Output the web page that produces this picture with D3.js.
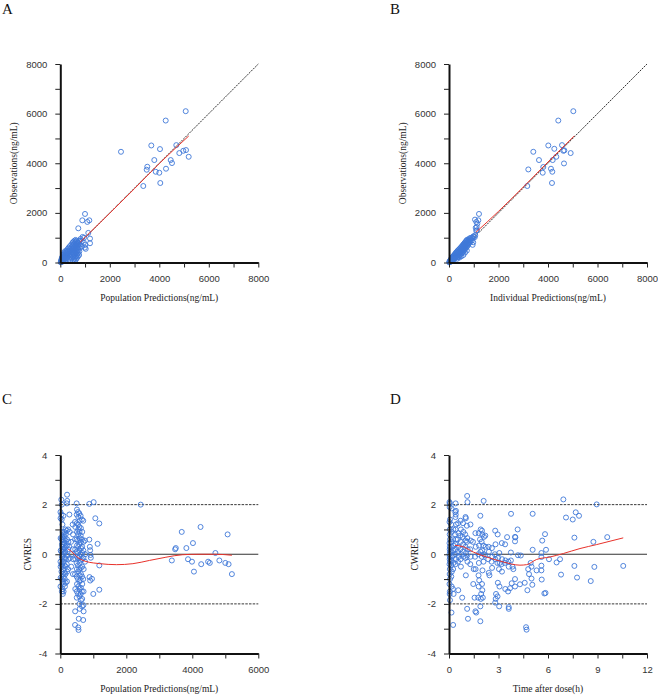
<!DOCTYPE html>
<html>
<head>
<meta charset="utf-8">
<script src="https://cdn.jsdelivr.net/npm/d3@7/dist/d3.min.js"></script>
<style>
body { margin: 0; background: #fff; }
.tick text { font-family: "Liberation Sans", Arial, sans-serif; font-size: 9.5px; fill: #333; }
.title { font-family: "Liberation Serif", "Times New Roman", serif; font-size: 9.5px; fill: #222; }
.letter { font-family: "Liberation Serif", "Times New Roman", serif; font-size: 15px; fill: #111; }
</style>
</head>
<body>
<svg id="chart" width="658" height="699"></svg>
<script>
// A: population predictions vs observations (ng/mL)
let predObs = [
  [15,10],[25,60],[35,25],[45,120],[55,70],[60,180],[70,30],[80,140],[90,240],[95,90],
  [105,200],[115,310],[120,60],[130,160],[140,260],[150,380],[155,110],[165,220],[175,330],[185,450],
  [190,60],[200,170],[210,280],[215,400],[225,120],[235,240],[245,350],[255,480],[265,180],[275,300],
  [285,420],[295,540],[305,230],[315,350],[325,460],[340,600],[350,150],[360,300],[370,420],[380,540],
  [390,660],[400,90],[410,230],[420,360],[430,480],[440,600],[450,720],[455,160],[465,300],[470,420],
  [480,540],[490,660],[495,800],[505,80],[510,220],[515,350],[520,470],[525,590],[530,710],[535,840],
  [545,130],[550,270],[555,400],[560,520],[565,640],[570,760],[575,880],[585,60],[590,190],[595,320],
  [600,450],[605,570],[610,690],[615,810],[620,910],[630,120],[635,250],[640,380],[645,500],[650,620],
  [655,740],[660,860],[670,180],[675,310],[680,440],[685,560],[690,680],[700,800],[710,240],[715,370],
  [720,500],[730,620],[740,740],[750,860],[760,300],[770,450],[780,600],[790,720],[800,880],[820,950],
  [727,1379],[889,1700],[998,1957],[1091,1636],[1172,1700],[1131,1193],[1200,965],[1200,776],[864,856],[950,800],
  [1010,711],[1026,551],[900,1030],[960,1000],[990,600],[870,640],
  [2452,4462],[3353,3083],[3491,3739],[3515,3859],[3677,4716],[3798,4129],[3855,3658],[4000,3618],[4028,4571],[4040,3204],
  [4259,5721],[4271,3779],[4461,4129],[4513,4008],[4687,4731],[4808,4410],[4970,4502],[5067,6098],[5079,4531],[5188,4261]
]
let predObsTrend = [[800,820],[2000,1990],[3000,2980],[4000,3990],[5190,5100]]

// B: individual predictions vs observations (ng/mL)
let ipredObs = [
  [10,5],[20,40],[30,15],[40,70],[50,30],[60,100],[70,50],[80,130],[90,75],[100,160],
  [110,100],[120,190],[125,60],[135,130],[145,220],[150,90],[160,170],[170,250],[175,110],[185,200],
  [195,280],[205,140],[215,230],[225,320],[235,170],[245,270],[255,360],[265,200],[275,300],[285,400],
  [295,230],[305,330],[315,430],[325,260],[335,370],[345,470],[355,210],[365,300],[375,410],[385,510],
  [395,250],[405,350],[415,450],[425,550],[435,290],[445,390],[455,490],[465,590],[475,330],[480,430],
  [490,530],[500,630],[510,370],[520,470],[525,570],[535,670],[545,410],[550,510],[560,610],[565,710],
  [575,450],[585,550],[590,650],[600,750],[610,490],[615,590],[625,690],[630,790],[640,530],[650,630],
  [655,730],[665,830],[675,580],[680,680],[690,780],[700,880],[710,620],[715,720],[725,820],[735,920],
  [745,670],[755,770],[765,870],[780,720],[790,820],[800,940],[815,780],[830,880],[845,980],[860,840],
  [880,930],[900,1000],[920,880],[950,980],[980,1040],[1000,1060],[1040,1020],[1060,1100],[330,150],[420,200],
  [500,250],[580,300],[650,400],[720,480],
  [1212,1957],[1050,1728],[1104,1636],[1185,1700],[1145,1568],[1078,1395],[1118,1435],[978,816],[955,711],[1100,1280],[1130,1300],
  [3163,3083],[3205,3751],[3406,4462],[3636,4129],[3786,3618],[3810,3848],[4012,4716],[4120,3779],[4161,3204],[4174,3658],
  [4189,4129],[4255,4583],[4336,4261],[4416,5721],[4566,4731],[4620,4502],[4646,3992],[4660,4518],[4916,4410],[5023,6098]
]
let ipredObsTrend = [[1090,1220],[2000,2060],[3000,3040],[4000,4050],[5060,5100]]

// C: population predictions vs CWRES
let predCwres = [
  [5,1.7],[8,1.45],[10,0.65],[12,0.15],[6,-0.3],[9,-0.5],[11,-0.95],[7,-1.3],
  [30,2.2],[45,2.0],[35,1.6],[42,1.4],[38,0.6],[50,0.4],[33,0.1],[47,-0.1],[40,-0.4],[36,-0.7],[44,-1.0],[48,-1.5],
  [65,1.2],[72,0.9],[68,0.7],[75,0.5],[62,0.3],[78,0.1],[70,-0.2],[66,-0.5],[74,-0.8],[80,-1.1],[69,-1.4],[77,-1.6],
  [95,1.55],[102,0.8],[98,0.6],[105,0.4],[92,0.2],[108,0.0],[100,-0.3],[96,-0.6],[104,-0.9],[110,-1.2],[99,-1.5],
  [125,0.9],[132,0.7],[128,0.45],[135,0.25],[122,0.05],[138,-0.15],[130,-0.45],[126,-0.75],[134,-1.0],[140,-1.3],
  [155,1.0],[162,0.8],[158,0.55],[165,0.3],[152,0.1],[168,-0.2],[160,-0.5],[156,-0.8],[164,-1.15],
  [205,2.4],[210,2.15],[198,2.05],[195,0.95],[205,0.6],[200,0.35],[212,-0.05],[196,-0.4],[208,-0.7],[202,-1.1],
  [235,1.0],[245,0.5],[240,0.2],[250,-0.2],[238,-0.6],
  [275,1.6],[285,0.9],[270,0.3],[290,-0.15],
  [325,0.5],[335,0.0],[330,-0.5],
  [375,1.2],[385,0.8],[378,0.2],[390,-0.2],[382,-0.8],
  [445,1.3],[455,1.1],[448,0.6],[452,0.2],[458,-0.2],[446,-0.8],[454,-1.4],[450,-2.3],[447,-2.85],
  [495,2.05],[505,1.8],[498,1.6],[502,1.25],[508,0.9],[496,0.6],[504,0.35],[500,0.1],[506,-0.1],[494,-0.35],
  [503,-0.6],[497,-0.9],[507,-1.2],[501,-1.5],[499,-1.75],[545,-2.95],
  [535,1.7],[545,1.5],[538,1.2],[542,1.0],[548,0.8],[536,0.55],[544,0.3],[540,0.05],[546,-0.15],[534,-0.45],
  [543,-0.7],[537,-1.0],[547,-1.3],[541,-1.6],[560,-2.6],[552,-3.05],
  [575,1.65],[585,1.35],[578,1.1],[582,0.9],[588,0.65],[576,0.4],[584,0.15],[580,-0.1],[586,-0.35],[574,-0.6],
  [583,-0.85],[577,-1.1],[587,-1.4],[581,-1.7],[579,-2.0],[589,-2.2],
  [615,1.55],[625,1.05],[618,0.75],[622,0.5],[628,0.25],[616,0.0],[624,-0.25],[620,-0.55],[626,-0.8],[614,-1.05],
  [623,-1.35],[617,-1.6],[627,-1.85],
  [655,1.4],[665,0.9],[658,0.6],[662,0.3],[668,0.05],[656,-0.2],[664,-0.5],[660,-0.9],[666,-1.2],[654,-1.5],
  [663,-1.8],[657,-2.1],
  [695,1.35],[705,0.5],[698,0.15],[702,-0.15],[708,-0.6],[696,-1.0],[704,-1.5],[700,-2.05],[706,-2.3],[694,-2.65],
  [745,0.55],[755,0.0],[750,-0.3],
  [879,2.03],[1011,2.1],[879,0.59],[895,0.3],[905,0.16],[1130,0.42],[1061,1.45],[1182,1.24],[1182,-0.45],[1182,-1.43],
  [1000,-1.6],[885,-0.92],[960,-0.99],[905,-1.06],[925,-0.14],[915,-0.03],[2436,2.0],
  [3380,-0.25],[3480,0.2],[3500,0.25],[3680,0.9],[3820,0.25],[3870,-0.2],[3990,-0.3],[4020,0.45],[4050,-0.7],[4250,1.1],
  [4270,-0.4],[4480,-0.3],[4530,-0.35],[4700,0.05],[4820,-0.25],[5000,-0.35],[5070,0.8],[5100,-0.4],[5200,-0.8]
]
let predCwresTrend = [[243,0.2],[350,0.1],[500,-0.1],[750,-0.28],[1000,-0.35],[1200,-0.38],[1700,-0.42],[2200,-0.38],
  [2700,-0.25],[3200,-0.12],[3700,-0.02],[4200,0.0],[4700,0.0],[5200,-0.04]]

// D: time after dose (h) vs CWRES
let timeCwres = [
  [0.03,2.1],[0.05,2.05],[0.04,1.9],[0.06,1.4],[0.03,1.3],[0.05,1.0],[0.04,0.8],[0.06,0.6],[0.03,0.45],[0.05,0.3],
  [0.04,0.2],[0.06,0.1],[0.03,0.0],[0.05,-0.1],[0.04,-0.2],[0.06,-0.3],[0.03,-0.4],[0.05,-0.6],[0.04,-0.8],[0.06,-1.0],
  [0.03,-1.2],[0.05,-1.5],[0.04,-1.6],[0.06,-1.85],
  [0.15,1.85],[0.13,1.2],[0.17,0.9],[0.14,0.5],[0.16,0.3],[0.12,0.1],[0.18,-0.1],[0.15,-0.25],[0.13,-0.45],[0.17,-0.7],
  [0.14,-0.9],[0.16,-1.3],[0.15,-2.35],
  [0.26,1.0],[0.24,0.6],[0.28,0.35],[0.25,0.15],[0.23,-0.05],[0.27,-0.35],[0.25,-0.6],[0.24,-1.4],[0.25,-2.85],[0.28,-1.6],
  [0.4,2.05],[0.42,1.75],[0.38,1.7],[0.41,1.6],[0.39,1.5],[0.43,1.2],[0.4,1.0],[0.37,0.8],[0.42,0.6],[0.39,0.4],
  [0.41,0.2],[0.38,0.0],[0.42,-0.2],[0.4,-0.4],
  [0.55,1.25],[0.57,0.85],[0.53,0.6],[0.56,0.3],[0.54,0.1],[0.58,-0.1],[0.55,-0.3],[0.56,-1.45],
  [0.7,1.35],[0.72,1.0],[0.68,0.75],[0.71,0.5],[0.69,0.2],[0.73,0.0],[0.7,-0.2],[0.72,-0.5],
  [0.85,1.25],[0.87,0.9],[0.83,0.7],[0.86,0.4],[0.84,0.1],[0.88,-0.1],[0.8,-1.75],
  [1.0,1.5],[1.02,1.45],[0.98,0.8],[1.01,0.55],[0.99,0.3],[1.03,0.05],[1.0,-0.15],[1.02,-0.85],
  [1.1,2.35],[1.12,2.1],[1.08,1.15],[1.11,0.65],[1.09,0.5],[1.13,0.2],[1.1,-0.05],[1.12,-0.3],[1.1,-2.2],[1.15,-2.6],
  [1.3,1.2],[1.32,0.55],[1.28,0.2],[1.31,-0.1],[1.29,-0.4],
  [1.45,0.5],[1.5,-0.6],[1.47,-1.2],
  [1.6,0.85],[1.62,0.3],[1.58,-0.1],[1.61,-0.6],[1.55,-1.75],[1.6,-2.3],[1.65,-2.35],
  [1.8,0.85],[1.82,0.35],[1.78,0.0],[1.81,-0.35],[1.79,-0.85],[1.83,-1.05],[1.8,-1.3],[1.77,-1.75],[1.9,-2.1],
  [1.9,1.55],[1.92,1.0],[1.88,0.6],[1.91,0.1],[1.95,-1.6],[1.93,-1.8],[1.9,-2.7],
  [2.0,0.95],[2.02,0.8],[1.98,0.5],[2.01,0.15],[1.99,-0.1],[2.03,-0.65],[2.0,-1.2],[2.02,-1.45],[2.05,-1.75],
  [2.1,2.15],[2.12,0.7],[2.08,0.35],[2.11,0.0],[2.09,-0.3],
  [2.2,0.75],[2.22,0.3],[2.18,-0.05],
  [2.4,0.3],[2.42,0.1],[2.38,-0.2],[2.41,-0.75],[2.45,-0.85],
  [2.6,0.25],[2.62,-0.1],[2.58,-0.3],[2.61,-0.55],
  [2.8,0.95],[2.82,0.4],[2.78,0.0],[2.81,-0.2],[2.85,-1.6],[2.83,-1.8],[2.8,-1.95],
  [2.95,0.8],[2.97,-0.15],[2.93,-0.35],[2.96,-1.15],[2.94,-1.7],
  [3.05,0.05],[3.07,-0.35],[3.03,-0.6],[3.06,-1.3],[3.04,-2.1],
  [3.2,0.45],[3.22,-0.2],[3.18,-0.4],[3.21,-0.7],
  [3.4,0.4],[3.42,-0.25],[3.38,-0.35],[3.41,-1.4],
  [3.6,-0.3],[3.62,-0.5],[3.58,-1.5],[3.62,-2.2],
  [3.76,1.63],[4.16,1.0],[4.0,0.7],[4.02,0.68],[4.0,0.52],[3.52,0.69],[3.75,0.07],[3.75,-0.25],[3.85,-0.5],[3.9,-0.6],
  [3.7,-1.37],[3.8,-1.17],[4.0,-1.3],[4.0,-1.0],[3.62,-2.13],[4.18,-0.04],[4.35,-0.05],[4.3,-1.21],[4.59,-1.15],[4.67,-2.94],
  [4.7,-3.04],[4.8,-0.6],[4.85,-0.8],[4.75,-1.45],[4.95,-0.35],[5.0,-0.5],[5.07,1.63],[5.07,0.18],[5.0,-0.98],[5.05,-1.23],
  [5.31,-0.65],[5.6,0.05],[5.6,-0.11],[5.6,-0.46],[5.6,-0.65],[5.62,-1.02],[5.65,0.55],[5.78,-1.58],[5.85,-1.56],[5.82,0.81],
  [5.88,0.18],[6.06,-0.2],[6.52,-0.33],[6.73,-0.2],[6.79,-0.82],[6.93,2.21],[7.09,1.48],[7.5,1.4],[7.6,0.67],[7.6,-0.47],
  [7.68,1.69],[7.76,-0.94],[7.88,1.55],[8.59,-1.08],[8.75,0.5],[8.81,-0.51],[8.95,2.01],[9.59,0.69],[10.56,-0.47]
]
let timeCwresTrend = [[0.36,0.36],[0.87,0.3],[1.47,0.09],[2.28,-0.11],[3.29,-0.31],[4.3,-0.44],[4.7,-0.42],[5.31,-0.21],
  [6.12,-0.11],[6.93,0.03],[7.94,0.23],[8.95,0.39],[10.56,0.66]]

let concTicks = d3.range(0, 8001, 1000)
let predTicks = d3.range(0, 6001, 1000)
let timeTicks = d3.range(0, 12.1, 1.5)
let cwresTicks = d3.range(-4, 4.1, 1)

let panels = [
  { letter: 'A', left: 60.3, top: 64, points: predObs, trend: predObsTrend, kind: 'gof',
    xDomain: [0, 8000], yDomain: [0, 8000], xTicks: concTicks, yTicks: concTicks, xEvery: 2000, yEvery: 2000,
    xTitle: 'Population Predictions(ng/mL)', yTitle: 'Observations(ng/mL)', yTitleOff: 46.5 },
  { letter: 'B', left: 449, top: 64, points: ipredObs, trend: ipredObsTrend, kind: 'gof',
    xDomain: [0, 8000], yDomain: [0, 8000], xTicks: concTicks, yTicks: concTicks, xEvery: 2000, yEvery: 2000,
    xTitle: 'Individual Predictions(ng/mL)', yTitle: 'Observations(ng/mL)', yTitleOff: 46 },
  { letter: 'C', left: 60.3, top: 455, points: predCwres, trend: predCwresTrend, kind: 'res',
    xDomain: [0, 6000], yDomain: [-4, 4], xTicks: predTicks, yTicks: cwresTicks, xEvery: 2000, yEvery: 2,
    xTitle: 'Population Predictions(ng/mL)', yTitle: 'CWRES', yTitleOff: 32.5 },
  { letter: 'D', left: 449, top: 455, points: timeCwres, trend: timeCwresTrend, kind: 'res',
    xDomain: [0, 12], yDomain: [-4, 4], xTicks: timeTicks, yTicks: cwresTicks, xEvery: 3, yEvery: 2,
    xTitle: 'Time after dose(h)', yTitle: 'CWRES', yTitleOff: 34 }
]

let svg = d3.select('#chart')
let W = 198, H = 198.5

function isMajor(v, step) {
  return Math.abs(v / step - Math.round(v / step)) < 1e-6
}

function drawPanel(p) {
  let g = svg.append('g')
  let x = d3.scaleLinear().domain(p.xDomain).range([p.left, p.left + W])
  let y = d3.scaleLinear().domain(p.yDomain).range([p.top + H, p.top])
  let line = d3.line().x(d => x(d[0])).y(d => y(d[1]))

  // reference lines
  if (p.kind === 'gof') {
    g.append('path')
      .attr('d', line([[p.xDomain[0], p.yDomain[0]], [p.xDomain[1], p.yDomain[1]]]))
      .attr('stroke', '#1a1a1a').attr('stroke-width', 0.9).attr('stroke-dasharray', '2,1').attr('fill', 'none')
  } else {
    g.append('path')
      .attr('d', line([[p.xDomain[0], 0], [p.xDomain[1], 0]]))
      .attr('stroke', '#333').attr('stroke-width', 1.1).attr('fill', 'none')
    ;[-2, 2].forEach(v => {
      g.append('path')
        .attr('d', line([[p.xDomain[0], v], [p.xDomain[1], v]]))
        .attr('stroke', '#222').attr('stroke-width', 0.9).attr('stroke-dasharray', '2.5,1.2').attr('fill', 'none')
    })
  }

  // observations
  g.append('g').selectAll('circle')
    .data(p.points)
    .join('circle')
    .attr('cx', d => x(d[0]))
    .attr('cy', d => y(d[1]))
    .attr('r', 2.5)
    .attr('fill', 'none')
    .attr('stroke', '#3f78d8')
    .attr('stroke-width', 0.9)

  // smoother
  g.append('path')
    .attr('d', line.curve(d3.curveMonotoneX)(p.trend))
    .attr('stroke', '#e8322b').attr('stroke-width', 1).attr('fill', 'none')

  // axes
  let xAxis = d3.axisBottom(x).tickValues(p.xTicks).tickSize(5).tickSizeOuter(0).tickPadding(8)
    .tickFormat(d => isMajor(d, p.xEvery) ? d : '')
  let yAxis = d3.axisLeft(y).tickValues(p.yTicks).tickSize(5).tickSizeOuter(0).tickPadding(8)
    .tickFormat(d => isMajor(d, p.yEvery) ? d : '')

  let gx = g.append('g').attr('transform', `translate(0,${y(p.yDomain[0])})`).call(xAxis)
  let gy = g.append('g').attr('transform', `translate(${x(p.xDomain[0])},0)`).call(yAxis)
  ;[gx, gy].forEach(a => {
    a.select('.domain').attr('stroke', '#111').attr('stroke-width', 2)
    a.selectAll('.tick line').attr('stroke', '#222').attr('stroke-width', 1)
  })

  // titles
  g.append('text').attr('class', 'title')
    .attr('x', p.left + W / 2).attr('y', p.top + H + 38)
    .attr('text-anchor', 'middle').text(p.xTitle)
  g.append('text').attr('class', 'title')
    .attr('transform', `translate(${p.left - p.yTitleOff},${p.top + H / 2}) rotate(-90)`)
    .attr('text-anchor', 'middle').attr('dy', '0.35em').text(p.yTitle)
  g.append('text').attr('class', 'letter')
    .attr('x', p.left < 200 ? 2 : 390).attr('y', p.top < 200 ? 13.5 : 404)
    .text(p.letter)
}

panels.forEach(drawPanel)
</script>
</body>
</html>
